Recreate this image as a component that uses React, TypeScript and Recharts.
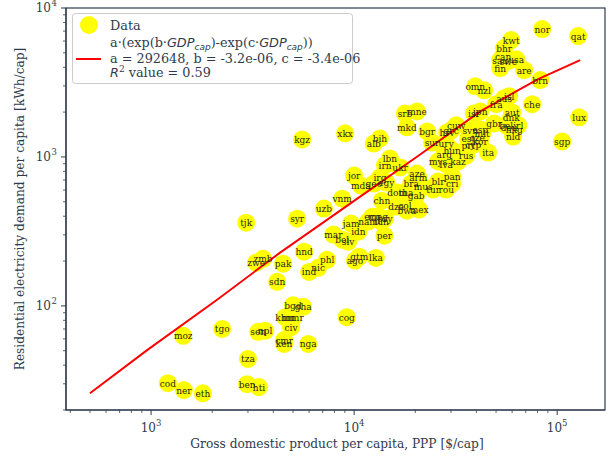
import React from "react"
import { ScatterChart, Scatter, XAxis, YAxis } from "recharts"

// country codes, GDP per capita (PPP, $/cap) and residential electricity demand (kWh/cap)
const countries = [
  "nor", "qat", "kwt", "bhr", "can", "sau", "swe", "usa", "fin", "are", "brn", "omn", "nzl", "isl", "aus",
  "fra", "che", "jpn", "isr", "aut", "dnk", "lux", "gbr", "bel", "deu", "irl", "hkg", "nld", "sgp", "ita",
  "svn", "esp", "mlt", "est", "cze", "kor", "cyp", "prt", "rus", "hun", "arg", "mys", "lva", "kaz", "cuw",
  "hrv", "grc", "bgr", "sur", "ury", "srb", "mne", "mkd", "bih", "alb", "kgz", "xkx", "lbn", "irn", "ukr",
  "jor", "aze", "arm", "irq", "geo", "mda", "egy", "blr", "cri", "pan", "rou", "tur", "bra", "mus", "dom",
  "tha", "gab", "chn", "dza", "col", "bwa", "mex", "ecu", "mng", "pry", "tun", "nam", "vnm", "uzb", "syr",
  "jam", "idn", "mar", "bol", "slv", "per", "tjk", "hnd", "gtm", "ago", "lka", "phl", "nic", "ind", "pak",
  "zmb", "zwe", "sdn", "bgd", "gha", "khm", "mmr", "civ", "cog", "tgo", "sen", "npl", "moz", "cmr", "ken",
  "nga", "tza", "cod", "ner", "eth", "ben", "hti",
]

const gdp = [
  84400, 126900, 59400, 54800, 54200, 52400, 57400, 62800, 52400, 68800, 82500, 39500, 43700, 58000, 54800,
  50100, 75300, 41800, 38900, 60000, 59400, 128300, 48900, 56100, 58000, 64300, 61400, 60700, 105800, 45700,
  37300, 41800, 42700, 36500, 40400, 41800, 38600, 36500, 35600, 30400, 27800, 25900, 28400, 32500, 31800,
  28700, 30050, 22900, 24200, 28400, 17800, 20400, 18200, 13400, 12500, 5545, 9030, 15000, 14200, 16850,
  10000, 20400, 20700, 13400, 12500, 10800, 14400, 25900, 30400, 30400, 28400, 24500, 19100, 21900, 16300,
  18000, 20200, 13700, 16100, 17800, 18200, 20900, 12300, 13100, 14200, 13600, 11700, 8730, 7100, 5240,
  9670, 10500, 7900, 8730, 9340, 14100, 2940, 5670, 10600, 10100, 12800, 7360, 6650, 6000, 4470,
  3560, 3290, 4180, 5000, 5610, 4570, 5000, 4890, 9200, 2240, 3370, 3650, 1440, 4520, 4520,
  5940, 3000, 1210, 1450, 1800, 2970, 3400,
]

const demand = [
  7220, 6480, 6090, 5380, 4750, 4470, 4400, 4530, 3950, 3830, 3280, 2980, 2800, 2560, 2480,
  2260, 2260, 2020, 1960, 1990, 1845, 1845, 1680, 1630, 1580, 1630, 1530, 1370, 1270, 1070,
  1510, 1530, 1440, 1330, 1350, 1270, 1210, 1195, 1020, 1106, 1040, 933, 890, 933, 1630,
  1460, 1508, 1484, 1250, 1233, 1960, 2020, 1580, 1330, 1230, 1312, 1440, 977, 880, 850,
  750, 774, 728, 728, 663, 643, 673, 684, 663, 739, 604, 604, 663, 633, 577,
  577, 551, 509, 464, 471, 436, 443, 397, 397, 385, 368, 368, 525, 450, 385,
  357, 315, 301, 278, 270, 296, 362, 231, 214, 201, 210, 204, 180, 169, 192,
  207, 195, 145, 101, 98.5, 84, 83, 72, 84, 70, 67, 68, 63, 59, 55.5,
  55.5, 44, 30.3, 27.2, 25.9, 29.8, 28.5,
]

// fitted curve
const fitGdp = [500, 956, 2114, 4320, 7617, 11990, 21140, 41770, 80600, 129800]
const fitDemand = [25.9, 50.5, 110, 228, 391, 604, 1039, 2024, 3327, 4465]

const xTicks = [
  400, 500, 600, 700, 800, 900, 1000, 2000, 3000, 4000, 5000, 6000, 7000, 8000, 9000, 10000,
  20000, 30000, 40000, 50000, 60000, 70000, 80000, 90000, 100000,
]
const yTicks = [
  20, 30, 40, 50, 60, 70, 80, 90, 100, 200, 300, 400, 500, 600, 700, 800, 900,
  1000, 2000, 3000, 4000, 5000, 6000, 7000, 8000, 9000, 10000,
]

const INK = "#2f3b4c"
const FONT = "DejaVu Serif"

const points = countries.map((name, i) => ({ name, gdp: gdp[i], demand: demand[i] }))
const fit = fitGdp.map((g, i) => ({ gdp: g, demand: fitDemand[i] }))

const isMajor = (v: number) => Math.abs(Math.log10(v) - Math.round(Math.log10(v))) < 1e-9

function XTick(props: any) {
  const { x, y, payload } = props
  const v = payload.value
  const major = isMajor(v)
  return (
    <g>
      <line x1={x} x2={x} y1={y} y2={y + (major ? 5 : 3)} stroke={INK} strokeWidth={major ? 1 : 0.8} />
      {major && (
        <text x={x} y={y + 22} textAnchor="middle" fontFamily={FONT} fontSize={12} fill={INK}>
          10<tspan dy={-6} fontSize={8.5}>{Math.round(Math.log10(v))}</tspan>
        </text>
      )}
    </g>
  )
}

function YTick(props: any) {
  const { x, y, payload } = props
  const v = payload.value
  const major = isMajor(v)
  return (
    <g>
      <line x1={x} x2={x - (major ? 5 : 3)} y1={y} y2={y} stroke={INK} strokeWidth={major ? 1 : 0.8} />
      {major && (
        <text x={x - 15} y={y + 4} textAnchor="end" fontFamily={FONT} fontSize={12} fill={INK}>
          10
        </text>
      )}
      {major && (
        <text x={x - 14.5} y={y - 2} textAnchor="start" fontFamily={FONT} fontSize={8.5} fill={INK}>
          {Math.round(Math.log10(v))}
        </text>
      )}
    </g>
  )
}

const dot = (p: any) => <circle cx={p.cx} cy={p.cy} r={9} fill="#ffff00" />
const label = (p: any) => (
  <text x={p.cx} y={p.cy + 3.5} textAnchor="middle" fontFamily={FONT} fontSize={9} fill="#1e1e1e">
    {p.payload.name}
  </text>
)
const nothing = () => <g />

export default function App() {
  return (
    <div style={{ position: "absolute", left: 0, top: 0, width: 616, height: 460, background: "#fff" }}>
      <ScatterChart width={616} height={460} margin={{ top: 8, right: 11, bottom: 0, left: 0 }}>
        <XAxis
          type="number"
          dataKey="gdp"
          scale="log"
          domain={[381, 172000]}
          allowDataOverflow
          ticks={xTicks}
          interval={0}
          height={50}
          tickSize={0}
          tickMargin={0}
          tickLine={false}
          axisLine={{ stroke: INK, strokeWidth: 1.2 }}
          tick={<XTick />}
        />
        <YAxis
          type="number"
          dataKey="demand"
          scale="log"
          domain={[20, 10000]}
          allowDataOverflow
          ticks={yTicks}
          interval={0}
          width={66}
          tickSize={0}
          tickMargin={0}
          tickLine={false}
          axisLine={{ stroke: INK, strokeWidth: 1.2 }}
          tick={<YTick />}
        />
        <Scatter data={points} shape={dot} isAnimationActive={false} />
        <Scatter
          data={fit}
          shape={nothing}
          line={{ stroke: "#ff0000", strokeWidth: 2 }}
          lineType="joint"
          isAnimationActive={false}
        />
        <Scatter data={points} shape={label} isAnimationActive={false} />
      </ScatterChart>
      <svg width={616} height={460} style={{ position: "absolute", left: 0, top: 0, pointerEvents: "none" }}>
        <rect x={66} y={8} width={539} height={402} fill="none" stroke={INK} strokeWidth={1.2} />
        <rect x={72.5} y={13.5} width={280} height={70} rx={3} fill="#ffffff" fillOpacity={0.8} stroke="#cccccc" />
        <circle cx={89} cy={25} r={9} fill="#ffff00" />
        <text x={110} y={30} fontFamily={FONT} fontSize={12.8} fill={INK}>Data</text>
        <line x1={76} x2={101} y1={59} y2={59} stroke="#ff0000" strokeWidth={2} />
        <text x={110} y={47} fontFamily={FONT} fontSize={12.8} fill={INK}>
          a·(exp(b·<tspan fontFamily="DejaVu Sans" fontStyle="italic">GDP</tspan>
          <tspan fontFamily="DejaVu Sans" fontStyle="italic" fontSize={9} dy={3}>cap</tspan>
          <tspan dy={-3}>)-exp(c·</tspan>
          <tspan fontFamily="DejaVu Sans" fontStyle="italic">GDP</tspan>
          <tspan fontFamily="DejaVu Sans" fontStyle="italic" fontSize={9} dy={3}>cap</tspan>
          <tspan dy={-3}>))</tspan>
        </text>
        <text x={110} y={63} fontFamily={FONT} fontSize={12.8} fill={INK}>
          a = 292648, b = -3.2e-06, c = -3.4e-06
        </text>
        <text x={110} y={77} fontFamily={FONT} fontSize={12.8} fill={INK}>
          <tspan fontFamily="DejaVu Sans" fontStyle="italic">R</tspan>
          <tspan fontSize={9} dy={-5}>2</tspan>
          <tspan dy={5}> value = 0.59</tspan>
        </text>
        <text x={337} y={448} textAnchor="middle" fontFamily={FONT} fontSize={12.2} fill={INK}>
          Gross domestic product per capita, PPP [$/cap]
        </text>
        <text
          x={24}
          y={209}
          textAnchor="middle"
          fontFamily={FONT}
          fontSize={12.2}
          fill={INK}
          transform="rotate(-90 24 209)"
        >
          Residential electricity demand per capita [kWh/cap]
        </text>
      </svg>
    </div>
  )
}
